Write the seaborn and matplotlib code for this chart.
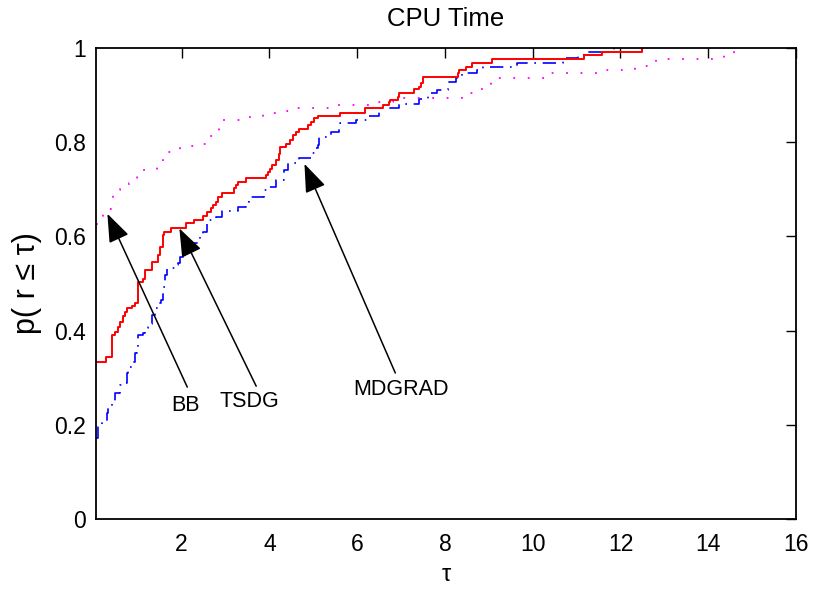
import matplotlib
matplotlib.use("Agg")
import matplotlib.pyplot as plt
import seaborn as sns
import pandas as pd

# ---------------- data ----------------
tsdg_tau = [0.05, 0.27, 0.41, 0.48, 0.56, 0.60, 0.67, 0.71, 0.75, 0.88,
            0.94, 1.00, 1.01, 1.13, 1.17, 1.32, 1.47, 1.51, 1.58, 1.60,
            1.77, 2.10, 2.29, 2.48, 2.59, 2.67, 2.71, 2.78, 2.82, 2.93,
            3.20, 3.25, 3.28, 3.47, 3.92, 3.96, 4.01, 4.06, 4.16, 4.21,
            4.25, 4.39, 4.47, 4.53, 4.61, 4.68, 4.87, 4.95, 5.02, 5.10,
            5.61, 6.19, 6.58, 6.72, 6.75, 6.92, 6.96, 7.30, 7.40, 7.45,
            7.51, 8.29, 8.31, 8.48, 8.61, 9.07, 11.16, 11.58, 12.50]
tsdg_p = [0.334, 0.345, 0.391, 0.398, 0.408, 0.419, 0.430, 0.440, 0.447, 0.452,
          0.458, 0.472, 0.504, 0.509, 0.529, 0.546, 0.560, 0.578, 0.603, 0.610,
          0.617, 0.628, 0.635, 0.643, 0.652, 0.660, 0.667, 0.674, 0.683, 0.693,
          0.702, 0.709, 0.716, 0.723, 0.730, 0.737, 0.744, 0.751, 0.762, 0.776,
          0.790, 0.797, 0.805, 0.815, 0.822, 0.829, 0.836, 0.843, 0.851, 0.856,
          0.863, 0.872, 0.879, 0.885, 0.890, 0.895, 0.904, 0.912, 0.918, 0.926,
          0.938, 0.946, 0.953, 0.960, 0.969, 0.977, 0.985, 0.992, 1.000]

mdgrad_tau = [0.05, 0.10, 0.18, 0.29, 0.33, 0.41, 0.48, 0.60, 0.71, 0.75,
              0.79, 0.86, 0.94, 0.98, 1.01, 1.13, 1.17, 1.24, 1.32, 1.39,
              1.47, 1.54, 1.58, 1.62, 1.66, 1.85, 1.92, 1.96, 2.04, 2.15,
              2.23, 2.42, 2.49, 2.57, 2.78, 2.93, 3.28, 3.47, 3.54, 3.88,
              4.00, 4.15, 4.34, 4.42, 4.68, 4.97, 5.04, 5.10, 5.14, 5.40,
              5.59, 5.61, 5.97, 6.24, 6.50, 6.54, 6.96, 7.42, 7.62, 7.83,
              8.06, 8.25, 8.40, 8.74, 8.86, 9.65, 10.68, 11.04, 11.26, 11.86]
mdgrad_p = [0.172, 0.196, 0.206, 0.224, 0.235, 0.245, 0.267, 0.284, 0.288, 0.309,
            0.323, 0.334, 0.352, 0.366, 0.391, 0.394, 0.405, 0.415, 0.433, 0.447,
            0.458, 0.465, 0.493, 0.518, 0.532, 0.539, 0.543, 0.557, 0.564, 0.578,
            0.585, 0.599, 0.610, 0.635, 0.642, 0.653, 0.663, 0.673, 0.684, 0.698,
            0.705, 0.719, 0.741, 0.755, 0.766, 0.778, 0.787, 0.795, 0.811, 0.822,
            0.829, 0.840, 0.847, 0.856, 0.865, 0.872, 0.881, 0.892, 0.904, 0.911,
            0.928, 0.936, 0.946, 0.953, 0.960, 0.969, 0.978, 0.985, 0.992, 1.000]

bb_tau = [0.05, 0.12, 0.22, 0.33, 0.40, 0.43, 0.48, 0.60, 0.80, 0.82,
          0.98, 1.00, 1.32, 1.44, 1.57, 1.60, 1.96, 2.20, 2.30, 2.57,
          2.60, 2.73, 2.86, 2.93, 3.40, 3.85, 4.40, 4.53, 5.44, 6.28,
          6.81, 8.40, 8.74, 8.93, 9.05, 10.34, 11.53, 12.33, 12.73, 12.80,
          14.36, 14.59]
bb_p = [0.627, 0.642, 0.652, 0.659, 0.670, 0.688, 0.699, 0.706, 0.713, 0.723,
        0.730, 0.741, 0.744, 0.755, 0.766, 0.780, 0.787, 0.792, 0.797, 0.804,
        0.813, 0.822, 0.838, 0.847, 0.854, 0.861, 0.866, 0.872, 0.879, 0.886,
        0.893, 0.904, 0.912, 0.922, 0.936, 0.946, 0.953, 0.961, 0.970, 0.977,
        0.985, 1.000]

x_ticks = [2, 4, 6, 8, 10, 12, 14, 16]
y_ticks = [0, 0.2, 0.4, 0.6, 0.8, 1]
y_tick_labels = ["0", "0.2", "0.4", "0.6", "0.8", "1"]

labels = ["BB", "TSDG", "MDGRAD"]
label_xy = [(2.09, 0.240), (3.55, 0.250), (7.0, 0.274)]
arrow_tail = [(2.13, 0.280), (3.70, 0.282), (6.87, 0.310)]
arrow_tip = [(0.31, 0.648), (1.95, 0.617), (4.80, 0.754)]

# ---------------- plot ----------------
sns.set_theme(style="white")
plt.rcParams["font.family"] = ["Liberation Sans", "DejaVu Sans"]
plt.rcParams["text.color"] = "black"
plt.rcParams["axes.labelcolor"] = "black"
plt.rcParams["xtick.color"] = "black"
plt.rcParams["ytick.color"] = "black"

fig = plt.figure(figsize=(8.14, 5.90), dpi=100)
ax = fig.add_axes([96 / 814, 1 - 519 / 590, 700 / 814, 471 / 590])

df_m = pd.DataFrame({"tau": mdgrad_tau, "p": mdgrad_p})
df_b = pd.DataFrame({"tau": bb_tau, "p": bb_p})
df_t = pd.DataFrame({"tau": tsdg_tau, "p": tsdg_p})

sns.lineplot(data=df_m, x="tau", y="p", ax=ax, color="#0000ff", lw=1.2,
             drawstyle="steps-post", estimator=None, sort=False,
             linestyle=(0, (8, 4, 1, 4)))
sns.lineplot(data=df_b, x="tau", y="p", ax=ax, color="#ff00ff", lw=1.3,
             drawstyle="steps-post", estimator=None, sort=False,
             linestyle=(0, (1, 7)))
sns.lineplot(data=df_t, x="tau", y="p", ax=ax, color="#ff0000", lw=1.4,
             drawstyle="steps-post", estimator=None, sort=False)

for lab, txy, tail, tip in zip(labels, label_xy, arrow_tail, arrow_tip):
    ax.annotate("", xy=tip, xytext=tail,
                arrowprops=dict(arrowstyle="-|>,head_length=0.8,head_width=0.3",
                                color="black", lw=1.1, mutation_scale=22,
                                shrinkA=0, shrinkB=0))
    ax.text(txy[0], txy[1], lab, ha="center", va="center",
            fontsize=15.5, color="black")

ax.set_xlim(0.05, 16)
ax.set_ylim(0, 1)
ax.set_xticks(x_ticks)
ax.set_xticklabels([str(t) for t in x_ticks])
ax.set_yticks(y_ticks)
ax.set_yticklabels(y_tick_labels)
ax.tick_params(direction="in", length=7, width=1, top=True, right=True,
               labelsize=16.5, colors="black")
ax.tick_params(axis="x", pad=10)
ax.tick_params(axis="y", pad=7)
for s in ax.spines.values():
    s.set_visible(True)
    s.set_color("black")
    s.set_linewidth(1.3)

ax.set_xlabel("τ", fontsize=17, color="black", labelpad=6)
ax.set_ylabel("p( r ≤ τ)", fontsize=22, color="black", labelpad=9)
ax.set_title("CPU Time", fontsize=18.5, color="black", pad=16)
ax.grid(False)

fig.savefig("out.png", dpi=100)
